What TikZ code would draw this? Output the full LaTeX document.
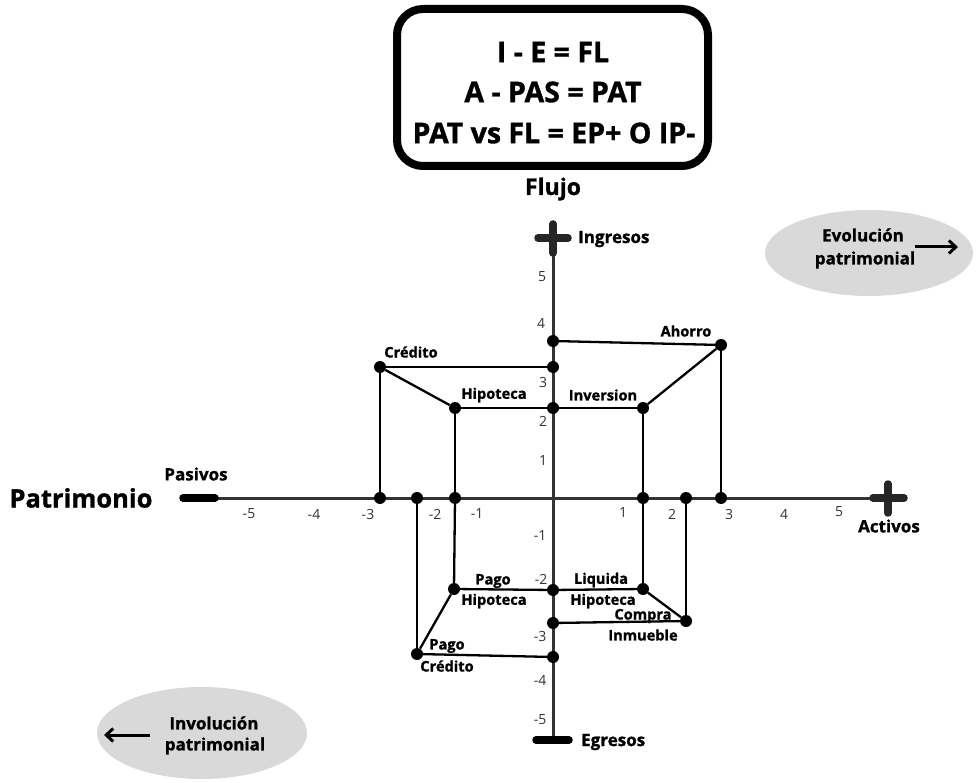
\documentclass[tikz,border=0pt]{standalone}
\usepackage{fontspec}
\setmainfont{Open Sans}[BoldFeatures={FakeBold=1.2}]
\usetikzlibrary{arrows.meta,shapes.geometric}
\definecolor{axisgray}{HTML}{333333}
\definecolor{ellgray}{HTML}{D9D9D9}
\begin{document}
\begin{tikzpicture}[x=1pt,y=-1pt,
  axisline/.style={draw=axisgray,line width=3pt},
  conn/.style={draw=black,line width=2.3pt},
  dot/.style={circle,fill=black,inner sep=0pt,minimum size=12pt},
  lbl/.style={font=\fontsize{14.6}{16}\selectfont\bfseries,inner sep=0pt},
  tick/.style={font=\fontsize{14}{16}\selectfont,text=axisgray,inner sep=0pt},
  endlbl/.style={font=\fontsize{17}{19}\selectfont\bfseries,inner sep=0pt},
  bar/.style={line width=7.5pt,line cap=round,draw=black},
  ell/.style={ellipse,fill=ellgray,draw=none},
  elltxt/.style={font=\fontsize{17}{19}\selectfont\bfseries,inner sep=0pt},
  boxtxt/.style={font=\fontsize{28.5}{30}\selectfont\bfseries,inner sep=0pt},
  arr/.style={line width=3pt,-{Straight Barb[length=7pt,width=13pt,line width=3pt]}}
]
\useasboundingbox (0,0) rectangle (980,783);

% formula box
\node[draw=black,line width=8pt,rounded corners=26pt,minimum width=311pt,minimum height=157pt] (box) at (552.5,87.5) {};
\node[boxtxt] (f1) at (553,52) {I - E = FL};
\node[boxtxt] (f2) at (553,92) {A - PAS = PAT};
\node[boxtxt] (f3) at (554,133) {PAT vs FL = EP+ O IP-};
\node[font=\fontsize{23}{25}\selectfont\bfseries,inner sep=0pt] (flujo) at (553,189) {Flujo};

% ellipses
\node[ell,minimum width=208pt,minimum height=86pt] (evo) at (869,253) {};
\node[elltxt] (evo1) at (863,235) {Evolución};
\node[elltxt] (evo2) at (865,260) {patrimonial};
\coordinate (evoa) at (915,247);
\coordinate (evob) at (958,247);
\draw[arr] (evoa) -- (evob);

\node[ell,minimum width=210pt,minimum height=92pt] (inv) at (202,733) {};
\node[elltxt] (inv1) at (214,723) {Involución};
\node[elltxt] (inv2) at (215,746) {patrimonial};
\coordinate (inva) at (150,735);
\coordinate (invb) at (104,735);
\draw[arr] (inva) -- (invb);

% axes
\coordinate (ytop) at (553,240);
\coordinate (ybot) at (553,740);
\coordinate (xl) at (198,498);
\coordinate (xr) at (888,498);
\draw[axisline] (ytop) -- (ybot);
\draw[axisline] (xl) -- (xr);

% plus signs and bars
\coordinate (ptl) at (538,238); \coordinate (ptr) at (568,238);
\coordinate (ptt) at (553,224); \coordinate (ptb) at (553,253);
\draw[bar,draw=black!85] (ptl) -- (ptr); \draw[bar,draw=black!85] (ptt) -- (ptb);
\coordinate (prl) at (873,498); \coordinate (prr) at (904,498);
\coordinate (prt) at (888,484); \coordinate (prb) at (888,513);
\draw[bar,draw=black!85] (prl) -- (prr); \draw[bar,draw=black!85] (prt) -- (prb);
\coordinate (pa) at (183,498); \coordinate (pb) at (215,498);
\draw[bar] (pa) -- (pb);
\coordinate (ea) at (536,740); \coordinate (eb) at (569,740);
\draw[bar] (ea) -- (eb);

% axis labels
\node[endlbl,anchor=west] (ingresos) at (578,239) {Ingresos};
\node[endlbl,anchor=west] (egresos) at (581,742) {Egresos};
\node[endlbl] (pasivos) at (196,474) {Pasivos};
\node[endlbl] (activos) at (889,526) {Activos};
\node[font=\fontsize{25.5}{28}\selectfont\bfseries,inner sep=0pt] (patrimonio) at (81,498) {Patrimonio};

% ticks
\node[tick] (ty5) at (542,277) {5};
\node[tick] (ty4) at (541,323) {4};
\node[tick] (ty3) at (543,382) {3};
\node[tick] (ty2) at (543,421) {2};
\node[tick] (ty1) at (543,461) {1};
\node[tick] (tym1) at (540,536) {-1};
\node[tick] (tym2) at (541,579) {-2};
\node[tick] (tym3) at (540,636) {-3};
\node[tick] (tym4) at (540,680) {-4};
\node[tick] (tym5) at (540,720) {-5};
\node[tick] (tx5m) at (249,514) {-5};
\node[tick] (tx4m) at (314,514) {-4};
\node[tick] (tx3m) at (368,514) {-3};
\node[tick] (tx2m) at (435,514) {-2};
\node[tick] (tx1m) at (477,514) {-1};
\node[tick] (tx1) at (623,513) {1};
\node[tick] (tx2) at (672,514) {2};
\node[tick] (tx3) at (729,514) {3};
\node[tick] (tx4) at (784,514) {4};
\node[tick] (tx5) at (839,512) {5};

% dots
\node[dot] (axAh) at (553,341) {};
\node[dot] (axCr) at (553,367) {};
\node[dot] (axHi) at (553,408) {};
\node[dot] (axPH) at (553,590) {};
\node[dot] (axCI) at (553,623) {};
\node[dot] (axPC) at (553,657) {};
\node[dot] (cred) at (380,367) {};
\node[dot] (hipo) at (455,408) {};
\node[dot] (ahor) at (721,345) {};
\node[dot] (inve) at (643,408) {};
\node[dot] (liqu) at (643,589) {};
\node[dot] (comp) at (686,621) {};
\node[dot] (pagh) at (454,589) {};
\node[dot] (pagc) at (417,654) {};
\node[dot] (x3m) at (380,498) {};
\node[dot] (x2m) at (417,498) {};
\node[dot] (x1m) at (455,498) {};
\node[dot] (x1) at (643,498) {};
\node[dot] (x2) at (686,498) {};
\node[dot] (x3) at (721,498) {};

% connectors
\draw[conn] (axAh) -- (ahor);
\draw[conn] (axCr) -- (cred);
\draw[conn] (axHi) -- (hipo);
\draw[conn] (axHi) -- (inve);
\draw[conn] (cred) -- (hipo);
\draw[conn] (ahor) -- (inve);
\draw[conn] (cred) -- (x3m);
\draw[conn] (hipo) -- (x1m);
\draw[conn] (x1m) -- (pagh);
\draw[conn] (ahor) -- (x3);
\draw[conn] (inve) -- (x1);
\draw[conn] (x1) -- (liqu);
\draw[conn] (axPH) -- (liqu);
\draw[conn] (axPH) -- (pagh);
\draw[conn] (liqu) -- (comp);
\draw[conn] (comp) -- (x2);
\draw[conn] (axCI) -- (comp);
\draw[conn] (pagh) -- (pagc);
\draw[conn] (pagc) -- (axPC);
\draw[conn] (pagc) -- (x2m);

% labels
\node[lbl] (lcred) at (411,352) {Crédito};
\node[lbl] (lhipo) at (494,395) {Hipoteca};
\node[lbl] (linve) at (603,395) {Inversion};
\node[lbl] (lahor) at (686,331) {Ahorro};
\node[lbl] (lpago1) at (493,581) {Pago};
\node[lbl] (lhipo2) at (494,601) {Hipoteca};
\node[lbl] (lliqu) at (601,580) {Liquida};
\node[lbl] (lhipo3) at (603,601) {Hipoteca};
\node[lbl] (lcomp) at (643,616) {Compra};
\node[lbl] (linmu) at (643,635) {Inmueble};
\node[lbl] (lpago2) at (447,646) {Pago};
\node[lbl] (lcred2) at (447,666) {Crédito};
\end{tikzpicture}
\end{document}
